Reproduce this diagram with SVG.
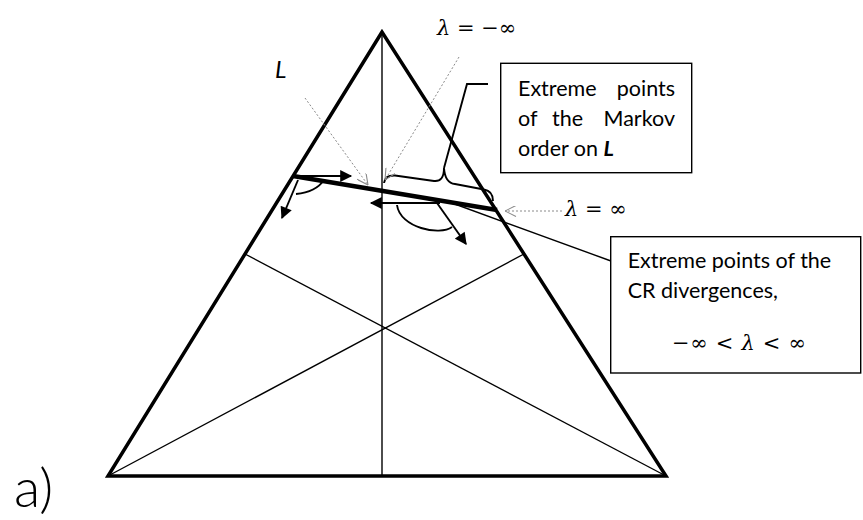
<svg xmlns="http://www.w3.org/2000/svg" width="863" height="520" viewBox="0 0 863 520">
<style>
.thick{stroke:#000;stroke-width:3.5;fill:none;stroke-linejoin:miter}
.thin{stroke:#000;stroke-width:1.4;fill:none}
.arr{stroke:#000;stroke-width:1.9;fill:none}
.dot{stroke:#8a8a8a;stroke-width:1;stroke-dasharray:2 2;fill:none}
.box{fill:#fff;stroke:#000;stroke-width:1.4}
.t{font-family:Lato,"Open Sans","Liberation Sans",sans-serif;font-size:21.5px;fill:#000}
.m{font-family:"DejaVu Serif","Liberation Serif",serif;font-size:21px;fill:#000}
</style>
<defs>
<marker id="ah" viewBox="0 0 10 10" refX="9" refY="5" markerWidth="14" markerHeight="12" markerUnits="userSpaceOnUse" orient="auto"><path d="M0,0L10,5L0,10z" fill="#000"/></marker>
<marker id="oh" viewBox="0 0 10 10" refX="10" refY="5" markerWidth="12" markerHeight="11" markerUnits="userSpaceOnUse" orient="auto"><path d="M0,0L10,5L0,10" fill="none" stroke="#8a8a8a" stroke-width="1"/></marker>
</defs>
<rect width="863" height="520" fill="#fff"/>
<g id="simplex">
<path class="thin" d="M382,32L382,476"/>
<path class="thin" d="M108,476L524,254"/>
<path class="thin" d="M666,476L245,254"/>
<path class="thick" d="M382,32L108,476L666,476Z"/>
</g>
<g id="line-L">
<path d="M293,176L497,210" stroke="#000" stroke-width="4.5"/>
</g>
<g id="connectors">
<path class="arr" d="M301,176L351,176" marker-end="url(#ah)"/>
<path class="arr" d="M298,180L282,218" marker-end="url(#ah)"/>
<path class="arr" d="M296,194Q316,192 324,180"/>
<path class="arr" d="M440,203L371,203" marker-end="url(#ah)"/>
<path class="arr" d="M437,203L466,244" marker-end="url(#ah)"/>
<path class="arr" d="M397,205C400,228 440,236 452,227"/>
<path class="arr" d="M384,183Q385,175 395,175.5L434,181Q444,182 444,168Q445,183 455,184L484,189.5Q493,191 493,201"/>
<path class="arr" d="M444,168L467,84L488,84"/>
<path class="thin" d="M452,203L611,261"/>
<path class="dot" d="M305,98L368,185" marker-end="url(#oh)"/>
<path class="dot" d="M459,57L385,180" marker-end="url(#oh)"/>
<path class="dot" d="M562,211L505,211" marker-end="url(#oh)"/>
</g>
<g id="label-L"><text class="t" x="275" y="78" style="font-size:24px;font-style:italic">L</text></g>
<g id="label-lambda-minus"><text class="m" x="437" y="35"><tspan font-style="italic">λ</tspan> = −∞</text></g>
<g id="label-lambda-plus"><text class="m" x="565" y="216"><tspan font-style="italic">λ</tspan> = ∞</text></g>
<g id="box-markov">
<rect class="box" x="500.7" y="63.3" width="191" height="109.4"/>
<text class="t" x="518" y="95.5">Extreme</text>
<text class="t" x="675" y="95.5" text-anchor="end">points</text>
<text class="t" x="518" y="125.5">of</text>
<text class="t" x="552" y="125.5">the</text>
<text class="t" x="675" y="125.5" text-anchor="end">Markov</text>
<text class="t" x="518" y="155.5">order on <tspan font-weight="bold" font-style="italic">L</tspan></text>
</g>
<g id="box-cr">
<rect class="box" x="610.7" y="236.7" width="250" height="136.3"/>
<text class="t" x="627.7" y="268">Extreme points of the</text>
<text class="t" x="627.7" y="298">CR divergences,</text>
<text class="m" x="672" y="350" textLength="134" lengthAdjust="spacing">−∞ &lt; <tspan font-style="italic">λ</tspan> &lt; ∞</text>
</g>
<g id="caption"><text class="t" x="14" y="507" style="font-size:54px;font-weight:300">a)</text></g>
</svg>
